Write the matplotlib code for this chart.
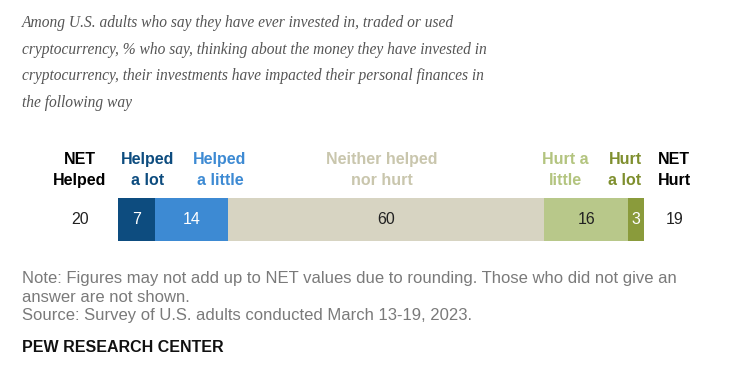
import matplotlib
matplotlib.use("Agg")
import matplotlib.pyplot as plt

categories = ["Helped a lot", "Helped a little", "Neither helped nor hurt", "Hurt a little", "Hurt a lot"]
values = [7, 14, 60, 16, 3]
net_helped = 20
net_hurt = 19
colors = ["#0d4c7f", "#3d8ad3", "#d7d4c2", "#b8c88a", "#8a9b3b"]
header_colors = ["#0d4c7f", "#3d8ad3", "#c9c6ad", "#b3c47f", "#7f8f2e"]
value_colors = ["white", "white", "#222222", "#222222", "white"]
header_labels = ["Helped\na lot", "Helped\na little", "Neither helped\nnor hurt", "Hurt a\nlittle", "Hurt\na lot"]

title = ("Among U.S. adults who say they have ever invested in, traded or used\n"
         "cryptocurrency, % who say, thinking about the money they have invested in\n"
         "cryptocurrency, their investments have impacted their personal finances in\n"
         "the following way")
note = ("Note: Figures may not add up to NET values due to rounding. Those who did not give an\n"
        "answer are not shown.\n"
        "Source: Survey of U.S. adults conducted March 13-19, 2023.")

W, H = 750, 373
fig = plt.figure(figsize=(7.5, 3.73), dpi=100)
fig.patch.set_facecolor("white")

def fx(px):
    return px / W

def fy(py):
    return 1 - py / H

PX_PER_UNIT = 526 / 100.0
def dx(px):
    return (px - 118) / PX_PER_UNIT

ax = fig.add_axes([fx(118), fy(241), fx(644) - fx(118), 43 / H])
ax.set_xlim(0, 100)
ax.set_ylim(0, 1)
ax.axis("off")

vfont = dict(fontsize=11.5, family="Liberation Sans")
left = 0
for v, c, tc in zip(values, colors, value_colors):
    ax.barh(0.5, v, left=left, height=1.0, color=c, edgecolor="none")
    ax.text(left + v / 2, 0.5, str(v), ha="center", va="center", color=tc, **vfont)
    left += v

# header labels (centres)
header_px = [148, 220, 382, 565, 625]
hfont = dict(fontsize=11.5, fontweight="bold", family="Liberation Sans", linespacing=1.5)
y_head = (241 - 170) / 43.0
for lab, hc, hx in zip(header_labels, header_colors, header_px):
    ax.text(dx(hx), y_head, lab, ha="center", va="center", color=hc, **hfont)

ax.text(dx(80), y_head, "NET\nHelped", ha="center", va="center", color="black", **hfont)
ax.text(dx(80), 0.5, str(net_helped), ha="center", va="center", color="#222222", **vfont)
ax.text(dx(674), y_head, "NET\nHurt", ha="center", va="center", color="black", **hfont)
ax.text(dx(675), 0.5, str(net_hurt), ha="center", va="center", color="#222222", **vfont)

fig.text(fx(22), fy(63), title, ha="left", va="center", fontsize=11.2, style="italic",
         family="Liberation Serif", color="#555555", linespacing=1.9)
fig.text(fx(22), fy(297), note, ha="left", va="center", fontsize=12.0,
         family="Liberation Sans", color="#7a7a7a", linespacing=1.3)
fig.text(fx(22), fy(348), "PEW RESEARCH CENTER", ha="left", va="center", fontsize=11.5,
         fontweight="bold", family="Liberation Sans", color="#111111")

fig.savefig("out.png", dpi=100, facecolor="white")
